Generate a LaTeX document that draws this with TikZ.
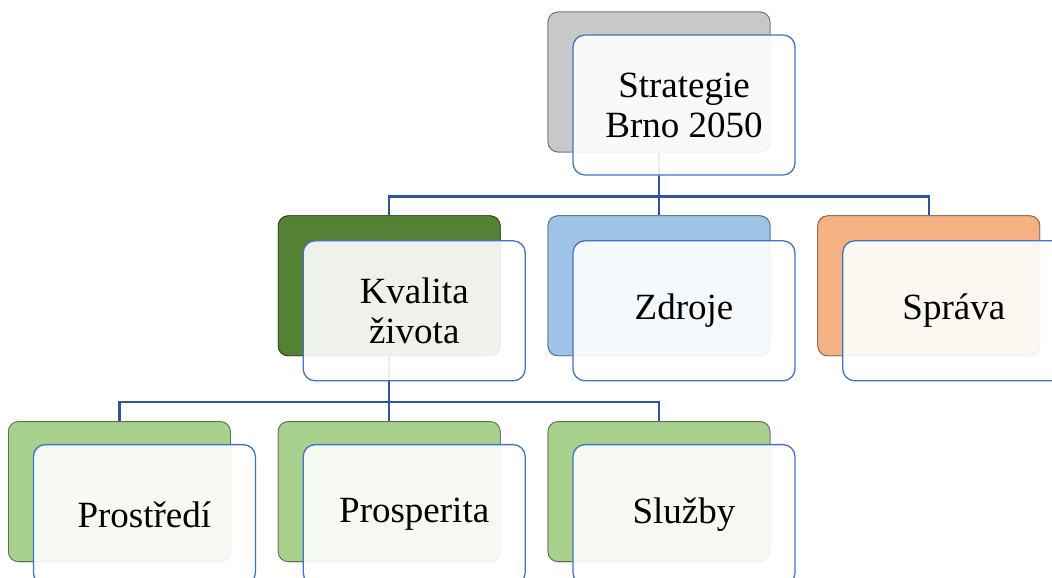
\documentclass[tikz,border=0pt]{standalone}
\usepackage{fontspec}
\setmainfont{Liberation Serif}
\usetikzlibrary{positioning,calc}
\definecolor{linkblue}{HTML}{2F5597}
\definecolor{frameblue}{HTML}{4472C4}
\definecolor{topgray}{HTML}{C8C8C8}
\definecolor{darkgreen}{HTML}{548235}
\definecolor{lightgreen}{HTML}{A9D18E}
\definecolor{skyblue}{HTML}{9DC3E6}
\definecolor{peach}{HTML}{F4B183}

\begin{document}
\begin{tikzpicture}[
      x=1pt,y=-1pt,
      node distance=64pt and 47pt,
      back/.style={rectangle,rounded corners=10pt,fill=#1,draw=#1!55!black,line width=0.8pt,
                   minimum width=222pt,minimum height=140pt,inner sep=0pt},
      front/.style={rectangle,rounded corners=12pt,draw=frameblue,line width=1.3pt,
                    fill=white,fill opacity=0.9,text opacity=1,
                    minimum width=222pt,minimum height=140pt,inner sep=0pt,align=center,
                    font=\fontsize{37}{40}\selectfont},
      conn/.style={linkblue,line width=2.5pt}
    ]
    \useasboundingbox (0,0) rectangle (1052,578);

    % back boxes
    \node[back=topgray] (sB) at (659,82) {};
    \node[back=skyblue,below=63pt of sB] (zB) {};
    \node[back=darkgreen,left=of zB] (kB) {};
    \node[back=peach,right=of zB] (spB) {};
    \node[back=lightgreen,below=65pt of kB] (prosB) {};
    \node[back=lightgreen,left=of prosB] (prB) {};
    \node[back=lightgreen,right=of prosB] (slB) {};

    % connectors
    \draw[conn] (sB.south) -- ++(0,44) coordinate (sJ);
    \draw[conn] (kB.north) |- (sJ) -| (spB.north);
    \draw[conn] (sJ) -- (zB.north);
    \draw[conn] (kB.south) -- ++(0,46) coordinate (kJ);
    \draw[conn] (prB.north) |- (kJ) -| (slB.north);
    \draw[conn] (kJ) -- (prosB.north);

    % redraw backs over the connectors
    \foreach \b/\c in {sB/topgray,zB/skyblue,kB/darkgreen,spB/peach,prosB/lightgreen,prB/lightgreen,slB/lightgreen}
      \node[back=\c] at (\b) {};

    % front boxes
    \node[front] (s)    at ($(sB)+(25,23)$)    {Strategie\\Brno 2050};
    \node[front] (k)    at ($(kB)+(25,25)$)    {Kvalita\\života};
    \node[front] (z)    at ($(zB)+(25,25)$)    {Zdroje};
    \node[front] (sp)   at ($(spB)+(25,25)$)   {Správa};
    \node[front] (pr)   at ($(prB)+(25,23)$)   {Prostředí};
    \node[front] (pros) at ($(prosB)+(25,23)$) {Prosperita};
    \node[front] (sl)   at ($(slB)+(25,23)$)   {Služby};

  \end{tikzpicture}
\end{document}
